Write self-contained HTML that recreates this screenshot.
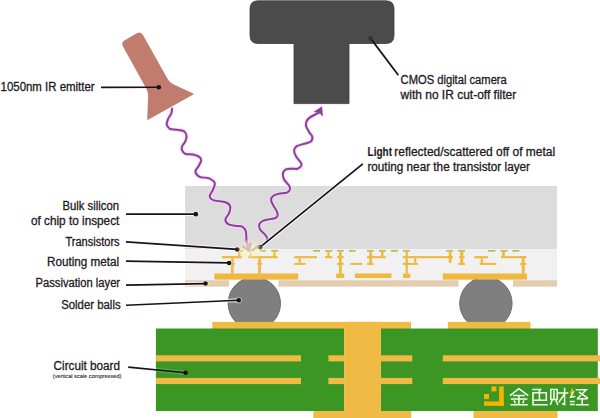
<!DOCTYPE html>
<html><head><meta charset="utf-8"><style>
html,body{margin:0;padding:0;background:#fff;overflow:hidden}
svg{display:block}
text{font-family:"Liberation Sans",sans-serif;fill:#1e1a1e;stroke:#1e1a1e;stroke-width:0.3}
</style></head><body>
<svg width="600" height="418" viewBox="0 0 600 418">
<defs>
<radialGradient id="glow" cx="50%" cy="50%" r="50%">
<stop offset="0" stop-color="#fffef0" stop-opacity="0.95"/>
<stop offset="0.3" stop-color="#fdf9c8" stop-opacity="0.75"/>
<stop offset="0.6" stop-color="#fbf6b8" stop-opacity="0.4"/>
<stop offset="1" stop-color="#fbf6b8" stop-opacity="0"/>
</radialGradient>
</defs>
<rect width="600" height="418" fill="#fff"/>
<!-- camera -->
<path d="M258,0.8 H386 Q394,0.8 394,8.8 V35.5 Q394,43.5 386,43.5 H349 V103.6 H294 V43.5 H258 Q250,43.5 250,35.5 V8.8 Q250,0.8 258,0.8 Z" fill="#4b4b4b" stroke="#3d3d3d" stroke-width="0.8"/>
<!-- emitter -->
<path d="M122.98,46.44 Q120.80,42.50 124.70,40.26 L136.90,33.24 Q140.80,31.00 143.00,34.93 L167.65,79.01 Q169.60,82.50 173.23,84.18 L194.30,93.90 L147.20,120.30 L148.14,96.30 Q148.30,92.30 146.37,88.80 Z" fill="#c27c6d"/>
<!-- chip -->
<rect x="185" y="186" width="372" height="63.3" fill="#dcdcdc"/>
<rect x="185" y="249.3" width="372" height="30.9" fill="#f1f1f1"/>
<rect x="185" y="280.2" width="44" height="6.5" fill="#e3ccb0"/>
<rect x="278.5" y="280.2" width="180" height="6.5" fill="#e3ccb0"/>
<rect x="513" y="280.2" width="44" height="6.5" fill="#e3ccb0"/>
<rect x="236.5" y="250.0" width="7.0" height="1.7" fill="#b4c24a"/>
<rect x="247.5" y="250.0" width="7.0" height="1.7" fill="#b4c24a"/>
<rect x="259.8" y="250.0" width="6.0" height="1.7" fill="#b4c24a"/>
<rect x="271.2" y="250.0" width="7.0" height="1.7" fill="#b4c24a"/>
<rect x="313.2" y="250.0" width="6.8" height="1.7" fill="#b4c24a"/>
<rect x="325.0" y="250.0" width="7.3" height="1.7" fill="#b4c24a"/>
<rect x="337.0" y="250.0" width="6.7" height="1.7" fill="#b4c24a"/>
<rect x="349.0" y="250.0" width="6.7" height="1.7" fill="#b4c24a"/>
<rect x="367.0" y="250.0" width="6.7" height="1.7" fill="#b4c24a"/>
<rect x="379.0" y="250.0" width="6.7" height="1.7" fill="#b4c24a"/>
<rect x="391.0" y="250.0" width="7.0" height="1.7" fill="#b4c24a"/>
<rect x="402.9" y="250.0" width="7.0" height="1.7" fill="#b4c24a"/>
<rect x="446.1" y="250.0" width="7.2" height="1.7" fill="#b4c24a"/>
<rect x="458.1" y="250.0" width="7.0" height="1.7" fill="#b4c24a"/>
<rect x="488.1" y="250.0" width="7.3" height="1.7" fill="#b4c24a"/>
<rect x="500.5" y="250.0" width="7.0" height="1.7" fill="#b4c24a"/>
<rect x="512.3" y="250.0" width="7.0" height="1.7" fill="#b4c24a"/>
<rect x="221.9" y="256.1" width="19.9" height="2.1" fill="#f0b83c"/>
<rect x="248.3" y="256.1" width="29.3" height="2.1" fill="#f0b83c"/>
<rect x="238.2" y="251.7" width="2.2" height="4.4" fill="#f0b83c"/>
<rect x="249.7" y="251.7" width="1.8" height="4.4" fill="#f0b83c"/>
<rect x="273.3" y="251.7" width="2.2" height="4.4" fill="#f0b83c"/>
<rect x="231.0" y="258.2" width="2.7" height="15.3" fill="#f0b83c"/>
<rect x="258.2" y="258.2" width="2.7" height="15.3" fill="#f0b83c"/>
<rect x="214.3" y="273.5" width="83.9" height="6.1" fill="#f0b83c"/>
<rect x="294.1" y="256.1" width="22.8" height="2.1" fill="#f0b83c"/>
<rect x="298.6" y="258.2" width="2.2" height="4.7" fill="#f0b83c"/>
<rect x="294.1" y="262.9" width="11.5" height="2.0" fill="#f0b83c"/>
<rect x="327.3" y="251.7" width="2.3" height="4.4" fill="#f0b83c"/>
<rect x="325.0" y="256.1" width="7.3" height="2.1" fill="#f0b83c"/>
<rect x="339.0" y="251.7" width="2.7" height="21.8" fill="#f0b83c"/>
<rect x="337.0" y="256.1" width="6.7" height="2.1" fill="#f0b83c"/>
<rect x="337.0" y="262.9" width="6.7" height="2.0" fill="#f0b83c"/>
<rect x="336.2" y="273.5" width="8.0" height="4.5" fill="#f0b83c"/>
<rect x="350.3" y="262.9" width="12.0" height="2.0" fill="#f0b83c"/>
<rect x="369.2" y="251.7" width="2.7" height="13.2" fill="#f0b83c"/>
<rect x="367.0" y="256.1" width="18.7" height="2.1" fill="#f0b83c"/>
<rect x="367.0" y="262.9" width="6.7" height="2.0" fill="#f0b83c"/>
<rect x="381.0" y="251.7" width="2.5" height="4.4" fill="#f0b83c"/>
<rect x="355.0" y="273.4" width="36.4" height="4.6" fill="#f0b83c"/>
<rect x="405.6" y="251.7" width="2.2" height="21.8" fill="#f0b83c"/>
<rect x="402.9" y="256.1" width="49.7" height="2.1" fill="#f0b83c"/>
<rect x="402.9" y="262.9" width="15.2" height="2.0" fill="#f0b83c"/>
<rect x="414.1" y="258.2" width="2.2" height="4.7" fill="#f0b83c"/>
<rect x="403.1" y="273.5" width="7.2" height="4.5" fill="#f0b83c"/>
<rect x="448.8" y="251.7" width="2.7" height="11.2" fill="#f0b83c"/>
<rect x="460.2" y="251.7" width="3.1" height="13.2" fill="#f0b83c"/>
<rect x="458.1" y="262.9" width="7.0" height="2.0" fill="#f0b83c"/>
<rect x="474.2" y="256.1" width="13.9" height="2.1" fill="#f0b83c"/>
<rect x="480.7" y="258.2" width="2.2" height="4.7" fill="#f0b83c"/>
<rect x="479.6" y="262.9" width="16.7" height="2.0" fill="#f0b83c"/>
<rect x="502.1" y="251.7" width="2.7" height="4.4" fill="#f0b83c"/>
<rect x="501.0" y="256.1" width="25.3" height="2.1" fill="#f0b83c"/>
<rect x="521.8" y="258.2" width="2.9" height="15.3" fill="#f0b83c"/>
<rect x="519.9" y="262.9" width="6.4" height="2.0" fill="#f0b83c"/>
<rect x="442.8" y="273.5" width="84.2" height="6.1" fill="#f0b83c"/>
<rect x="229.9" y="263.1" width="1.1" height="1.6" fill="#d9a83a"/>
<rect x="233.7" y="263.1" width="1.1" height="1.6" fill="#d9a83a"/>
<rect x="257.1" y="263.1" width="1.1" height="1.6" fill="#d9a83a"/>
<rect x="260.9" y="263.1" width="1.1" height="1.6" fill="#d9a83a"/>
<rect x="459.1" y="256.4" width="1.1" height="1.6" fill="#d9a83a"/>
<rect x="463.3" y="256.4" width="1.1" height="1.6" fill="#d9a83a"/>
<rect x="447.7" y="256.4" width="1.1" height="1.6" fill="#d9a83a"/>
<rect x="451.5" y="256.4" width="1.1" height="1.6" fill="#d9a83a"/>
<rect x="404.5" y="263.1" width="1.1" height="1.6" fill="#d9a83a"/>
<rect x="407.8" y="263.1" width="1.1" height="1.6" fill="#d9a83a"/>
<rect x="520.7" y="256.4" width="1.1" height="1.6" fill="#d9a83a"/>
<rect x="524.7" y="256.4" width="1.1" height="1.6" fill="#d9a83a"/>
<!-- solder balls -->
<clipPath id="bc"><rect x="0" y="279.6" width="600" height="42.4"/></clipPath>
<g clip-path="url(#bc)">
<circle cx="254.3" cy="303.4" r="26.2" fill="#7f7f7f" stroke="#6c6c6c" stroke-width="1"/>
<circle cx="485.9" cy="303.3" r="26.2" fill="#7f7f7f" stroke="#6c6c6c" stroke-width="1"/>
</g>
<rect x="212.3" y="321.9" width="198.7" height="7.1" fill="#f0bb45"/>
<rect x="447.8" y="321.9" width="82.7" height="7.1" fill="#f0bb45"/>
<rect x="155.9" y="328.5" width="188.2" height="82.5" fill="#3b9623"/>
<rect x="380.9" y="328.5" width="216.9" height="82.5" fill="#3b9623"/>
<rect x="155.9" y="355.3" width="145.1" height="6.1" fill="#f0bb45"/>
<rect x="328.4" y="355.3" width="15.7" height="6.1" fill="#f0bb45"/>
<rect x="155.9" y="377.9" width="145.1" height="6.2" fill="#f0bb45"/>
<rect x="328.4" y="377.9" width="15.7" height="6.2" fill="#f0bb45"/>
<rect x="380.9" y="355.3" width="31.4" height="6.1" fill="#f0bb45"/>
<rect x="442.8" y="355.3" width="157.2" height="6.1" fill="#f0bb45"/>
<rect x="380.9" y="377.9" width="31.4" height="6.2" fill="#f0bb45"/>
<rect x="442.8" y="377.9" width="157.2" height="6.2" fill="#f0bb45"/>
<rect x="344.1" y="321.9" width="36.8" height="96.1" fill="#f0bb45"/>
<rect x="313.3" y="411.0" width="97.9" height="7.0" fill="#f0bb45"/>
<rect x="473.5" y="411.0" width="84.0" height="7.0" fill="#f0bb45"/>
<!-- waves -->
<path d="M172.10,108.70 C171.83,110.23 171.95,111.62 171.30,113.30 C170.65,114.98 168.97,116.98 168.20,118.80 C167.43,120.62 166.43,122.52 166.70,124.20 C166.97,125.88 168.12,127.98 169.80,128.90 C171.48,129.82 174.47,129.32 176.80,129.70 C179.13,130.08 182.17,130.17 183.80,131.20 C185.43,132.23 186.35,134.22 186.60,135.90 C186.85,137.58 186.03,139.62 185.30,141.30 C184.57,142.98 182.77,144.57 182.20,146.00 C181.63,147.43 181.38,148.60 181.90,149.90 C182.42,151.20 183.43,153.03 185.30,153.80 C187.17,154.57 190.77,153.98 193.10,154.50 C195.43,155.02 197.95,155.87 199.30,156.90 C200.65,157.93 201.33,159.15 201.20,160.70 C201.07,162.25 199.47,164.37 198.50,166.20 C197.53,168.03 195.22,169.93 195.40,171.70 C195.58,173.47 197.32,175.68 199.60,176.80 C201.88,177.92 206.57,177.33 209.10,178.40 C211.63,179.47 214.17,181.30 214.80,183.20 C215.43,185.10 213.75,187.58 212.90,189.80 C212.05,192.02 209.53,194.73 209.70,196.50 C209.87,198.27 211.28,199.43 213.90,200.40 C216.52,201.37 222.70,201.35 225.40,202.30 C228.10,203.25 229.47,204.35 230.10,206.10 C230.73,207.85 229.98,210.57 229.20,212.80 C228.42,215.03 225.57,217.60 225.40,219.50 C225.23,221.40 226.60,223.15 228.20,224.20 C229.80,225.25 232.65,225.40 235.00,225.80 C237.35,226.20 240.53,225.82 242.30,226.60 C244.07,227.38 244.93,228.93 245.60,230.50 C246.27,232.07 246.17,234.17 246.30,236.00 C246.43,237.83 246.37,239.67 246.40,241.50" fill="none" stroke="#f7d8f7" stroke-opacity="0.9" stroke-width="4" stroke-linecap="round"/>
<path d="M172.10,108.70 C171.83,110.23 171.95,111.62 171.30,113.30 C170.65,114.98 168.97,116.98 168.20,118.80 C167.43,120.62 166.43,122.52 166.70,124.20 C166.97,125.88 168.12,127.98 169.80,128.90 C171.48,129.82 174.47,129.32 176.80,129.70 C179.13,130.08 182.17,130.17 183.80,131.20 C185.43,132.23 186.35,134.22 186.60,135.90 C186.85,137.58 186.03,139.62 185.30,141.30 C184.57,142.98 182.77,144.57 182.20,146.00 C181.63,147.43 181.38,148.60 181.90,149.90 C182.42,151.20 183.43,153.03 185.30,153.80 C187.17,154.57 190.77,153.98 193.10,154.50 C195.43,155.02 197.95,155.87 199.30,156.90 C200.65,157.93 201.33,159.15 201.20,160.70 C201.07,162.25 199.47,164.37 198.50,166.20 C197.53,168.03 195.22,169.93 195.40,171.70 C195.58,173.47 197.32,175.68 199.60,176.80 C201.88,177.92 206.57,177.33 209.10,178.40 C211.63,179.47 214.17,181.30 214.80,183.20 C215.43,185.10 213.75,187.58 212.90,189.80 C212.05,192.02 209.53,194.73 209.70,196.50 C209.87,198.27 211.28,199.43 213.90,200.40 C216.52,201.37 222.70,201.35 225.40,202.30 C228.10,203.25 229.47,204.35 230.10,206.10 C230.73,207.85 229.98,210.57 229.20,212.80 C228.42,215.03 225.57,217.60 225.40,219.50 C225.23,221.40 226.60,223.15 228.20,224.20 C229.80,225.25 232.65,225.40 235.00,225.80 C237.35,226.20 240.53,225.82 242.30,226.60 C244.07,227.38 244.93,228.93 245.60,230.50 C246.27,232.07 246.17,234.17 246.30,236.00 C246.43,237.83 246.37,239.67 246.40,241.50" fill="none" stroke="#8b409a" stroke-width="2" stroke-linecap="round"/>
<path d="M266.60,241.50 C266.87,240.53 267.65,239.73 267.40,238.60 C267.15,237.47 266.27,236.15 265.10,234.70 C263.93,233.25 261.38,231.60 260.40,229.90 C259.42,228.20 258.80,226.00 259.20,224.50 C259.60,223.00 261.02,221.80 262.80,220.90 C264.58,220.00 267.72,219.60 269.90,219.10 C272.08,218.60 274.60,218.60 275.90,217.90 C277.20,217.20 277.60,216.08 277.70,214.90 C277.80,213.72 277.30,212.48 276.50,210.80 C275.70,209.12 273.80,206.60 272.90,204.80 C272.00,203.00 271.12,201.43 271.10,200.00 C271.08,198.57 271.53,197.23 272.80,196.20 C274.07,195.17 276.32,194.40 278.70,193.80 C281.08,193.20 285.20,193.40 287.10,192.60 C289.00,191.80 289.80,190.18 290.10,189.00 C290.40,187.82 289.90,187.08 288.90,185.50 C287.90,183.92 285.10,181.50 284.10,179.50 C283.10,177.50 282.60,175.20 282.90,173.50 C283.20,171.80 284.38,170.10 285.90,169.30 C287.42,168.50 290.07,168.80 292.00,168.70 C293.93,168.60 295.93,169.22 297.50,168.70 C299.07,168.18 300.87,166.63 301.40,165.60 C301.93,164.57 301.60,164.05 300.70,162.50 C299.80,160.95 297.10,158.37 296.00,156.30 C294.90,154.23 293.97,151.78 294.10,150.10 C294.23,148.42 295.18,147.23 296.80,146.20 C298.42,145.17 301.47,144.68 303.80,143.90 C306.13,143.12 309.38,142.67 310.80,141.50 C312.22,140.33 312.57,138.45 312.30,136.90 C312.03,135.35 310.23,134.02 309.20,132.20 C308.17,130.38 306.53,127.82 306.10,126.00 C305.67,124.18 305.95,122.73 306.60,121.30 C307.25,119.87 308.27,118.68 310.00,117.40 C311.73,116.12 315.42,114.45 317.00,113.60 C318.58,112.75 318.67,112.73 319.50,112.30" fill="none" stroke="#f7d8f7" stroke-opacity="0.9" stroke-width="4" stroke-linecap="round"/>
<path d="M266.60,241.50 C266.87,240.53 267.65,239.73 267.40,238.60 C267.15,237.47 266.27,236.15 265.10,234.70 C263.93,233.25 261.38,231.60 260.40,229.90 C259.42,228.20 258.80,226.00 259.20,224.50 C259.60,223.00 261.02,221.80 262.80,220.90 C264.58,220.00 267.72,219.60 269.90,219.10 C272.08,218.60 274.60,218.60 275.90,217.90 C277.20,217.20 277.60,216.08 277.70,214.90 C277.80,213.72 277.30,212.48 276.50,210.80 C275.70,209.12 273.80,206.60 272.90,204.80 C272.00,203.00 271.12,201.43 271.10,200.00 C271.08,198.57 271.53,197.23 272.80,196.20 C274.07,195.17 276.32,194.40 278.70,193.80 C281.08,193.20 285.20,193.40 287.10,192.60 C289.00,191.80 289.80,190.18 290.10,189.00 C290.40,187.82 289.90,187.08 288.90,185.50 C287.90,183.92 285.10,181.50 284.10,179.50 C283.10,177.50 282.60,175.20 282.90,173.50 C283.20,171.80 284.38,170.10 285.90,169.30 C287.42,168.50 290.07,168.80 292.00,168.70 C293.93,168.60 295.93,169.22 297.50,168.70 C299.07,168.18 300.87,166.63 301.40,165.60 C301.93,164.57 301.60,164.05 300.70,162.50 C299.80,160.95 297.10,158.37 296.00,156.30 C294.90,154.23 293.97,151.78 294.10,150.10 C294.23,148.42 295.18,147.23 296.80,146.20 C298.42,145.17 301.47,144.68 303.80,143.90 C306.13,143.12 309.38,142.67 310.80,141.50 C312.22,140.33 312.57,138.45 312.30,136.90 C312.03,135.35 310.23,134.02 309.20,132.20 C308.17,130.38 306.53,127.82 306.10,126.00 C305.67,124.18 305.95,122.73 306.60,121.30 C307.25,119.87 308.27,118.68 310.00,117.40 C311.73,116.12 315.42,114.45 317.00,113.60 C318.58,112.75 318.67,112.73 319.50,112.30" fill="none" stroke="#8b409a" stroke-width="2" stroke-linecap="round"/>
<path d="M321.8,106.8 L314.2,111.8 L319.2,112.6 L322.6,116 Z" fill="#8b409a" stroke="#8b409a" stroke-width="0.6" stroke-linejoin="round"/>
<line x1="101" y1="87.45" x2="158.8" y2="87.25" stroke="#fff" stroke-opacity="0" stroke-width="3.8"/><line x1="101" y1="87.45" x2="158.8" y2="87.25" stroke="#1a111b" stroke-width="1.75"/><circle cx="158.8" cy="87.25" r="2.3" fill="#1a111b"/>
<line x1="398.4" y1="75.2" x2="370.6" y2="38.4" stroke="#1a111b" stroke-width="1.75"/><circle cx="370.6" cy="38.4" r="2.3" fill="#3a2c3c"/>
<line x1="362.8" y1="163.85" x2="260.1" y2="247.15" stroke="#fff" stroke-opacity="0.7" stroke-width="3.8"/><circle cx="260.1" cy="247.15" r="3.1" fill="#fff" fill-opacity="0.5"/><line x1="362.8" y1="163.85" x2="260.1" y2="247.15" stroke="#1a111b" stroke-width="1.75"/><circle cx="260.1" cy="247.15" r="2.3" fill="#1a111b"/>
<line x1="126" y1="214.05" x2="195.8" y2="214.15" stroke="#fff" stroke-opacity="0.7" stroke-width="3.8"/><circle cx="195.8" cy="214.15" r="3.1" fill="#fff" fill-opacity="0.5"/><line x1="126" y1="214.05" x2="195.8" y2="214.15" stroke="#1a111b" stroke-width="1.75"/><circle cx="195.8" cy="214.15" r="2.3" fill="#1a111b"/>
<line x1="126" y1="241.85" x2="237.3" y2="249.45" stroke="#fff" stroke-opacity="0.7" stroke-width="3.8"/><circle cx="237.3" cy="249.45" r="3.1" fill="#fff" fill-opacity="0.5"/><line x1="126" y1="241.85" x2="237.3" y2="249.45" stroke="#1a111b" stroke-width="1.75"/><circle cx="237.3" cy="249.45" r="2.3" fill="#1a111b"/>
<line x1="126" y1="261.05" x2="229.1" y2="262.95" stroke="#fff" stroke-opacity="0.7" stroke-width="3.8"/><circle cx="229.1" cy="262.95" r="3.1" fill="#fff" fill-opacity="0.5"/><line x1="126" y1="261.05" x2="229.1" y2="262.95" stroke="#1a111b" stroke-width="1.75"/><circle cx="229.1" cy="262.95" r="2.3" fill="#1a111b"/>
<line x1="126" y1="285.15" x2="205.5" y2="283.55" stroke="#fff" stroke-opacity="0.7" stroke-width="3.8"/><circle cx="205.5" cy="283.55" r="3.1" fill="#fff" fill-opacity="0.5"/><line x1="126" y1="285.15" x2="205.5" y2="283.55" stroke="#1a111b" stroke-width="1.75"/><circle cx="205.5" cy="283.55" r="2.3" fill="#1a111b"/>
<line x1="126" y1="305.25" x2="238.7" y2="300.25" stroke="#fff" stroke-opacity="0.7" stroke-width="3.8"/><circle cx="238.7" cy="300.25" r="3.1" fill="#fff" fill-opacity="0.5"/><line x1="126" y1="305.25" x2="238.7" y2="300.25" stroke="#1a111b" stroke-width="1.75"/><circle cx="238.7" cy="300.25" r="2.3" fill="#1a111b"/>
<line x1="128.2" y1="367.15" x2="185.6" y2="372.75" stroke="#fff" stroke-opacity="0.2" stroke-width="3.8"/><line x1="128.2" y1="367.15" x2="185.6" y2="372.75" stroke="#1a111b" stroke-width="1.75"/><circle cx="185.6" cy="372.75" r="2.3" fill="#1a111b"/>
<ellipse cx="250.5" cy="249.5" rx="15" ry="10" fill="url(#glow)"/>
<path d="M246.4,241 L248.8,249.5 M243,246.6 L249.2,250.7 L250.6,243.2" fill="none" stroke="#c9a8a8" stroke-opacity="0.7" stroke-width="2.4" stroke-linecap="round" stroke-linejoin="round"/>
<path d="M252.5,250 L258.5,246" fill="none" stroke="#c9a8a8" stroke-opacity="0.7" stroke-width="2.4" stroke-linecap="round"/>

<text x="0.6" y="91.3" font-size="12" text-anchor="start" textLength="94.0" lengthAdjust="spacingAndGlyphs" font-weight="normal">1050nm IR emitter</text>
<text x="400.6" y="84.4" font-size="12" text-anchor="start" textLength="106.2" lengthAdjust="spacingAndGlyphs" font-weight="normal">CMOS digital camera</text>
<text x="400.6" y="99.2" font-size="12" text-anchor="start" textLength="115.6" lengthAdjust="spacingAndGlyphs" font-weight="normal">with no IR cut-off filter</text>
<text x="367.6" y="155.9" font-size="12" textLength="24.4" lengthAdjust="spacingAndGlyphs" font-weight="bold" style="stroke-width:0.15">Light</text>
<text x="394.3" y="155.9" font-size="12" text-anchor="start" textLength="160.8" lengthAdjust="spacingAndGlyphs" font-weight="normal">reflected/scattered off of metal</text>
<text x="367.4" y="170.5" font-size="12" text-anchor="start" textLength="162.6" lengthAdjust="spacingAndGlyphs" font-weight="normal">routing near the transistor layer</text>
<text x="119" y="209.7" font-size="12" text-anchor="end" textLength="56.5" lengthAdjust="spacingAndGlyphs" font-weight="normal">Bulk silicon</text>
<text x="119.3" y="224.6" font-size="12" text-anchor="end" textLength="88.3" lengthAdjust="spacingAndGlyphs" font-weight="normal">of chip to inspect</text>
<text x="119.6" y="245.6" font-size="12" text-anchor="end" textLength="54.2" lengthAdjust="spacingAndGlyphs" font-weight="normal">Transistors</text>
<text x="119.2" y="265.7" font-size="12" text-anchor="end" textLength="72.2" lengthAdjust="spacingAndGlyphs" font-weight="normal">Routing metal</text>
<text x="120.1" y="286.9" font-size="12" text-anchor="end" textLength="84.5" lengthAdjust="spacingAndGlyphs" font-weight="normal">Passivation layer</text>
<text x="120.6" y="308.5" font-size="12" text-anchor="end" textLength="59.4" lengthAdjust="spacingAndGlyphs" font-weight="normal">Solder balls</text>
<text x="120" y="370.1" font-size="12" text-anchor="end" textLength="66.4" lengthAdjust="spacingAndGlyphs" font-weight="normal">Circuit board</text>
<text x="121.4" y="377.6" font-size="5.2" text-anchor="end" textLength="68.6" lengthAdjust="spacingAndGlyphs" style="stroke-width:0.12;fill:#333;stroke:#333">(vertical scale compressed)</text>
<!-- watermark -->
<g fill="#f5b400">
<rect x="499.1" y="386.4" width="4.7" height="19.4"/>
<rect x="484" y="401.4" width="19.8" height="4.4"/>
<rect x="491.4" y="386.4" width="5" height="5"/>
<rect x="484" y="394" width="5" height="5.1"/>
</g>
<g fill="none" stroke="#f4fff0" stroke-width="1.5" stroke-linecap="square">
<path d="M510.6,395.2 L518.9,388.6 L527.6,395.2 M513.8,395.4 H524.1 M511.6,399.1 H526.6 M518.9,395.4 V404.8 M511.2,404.8 H527 M514.4,401 L515.2,402.6 M523.8,401 L523,402.6"/>
<path d="M533,389.4 H540.5 L538.6,392.6 M533,392.8 H546.3 V400.3 H533 V392.8 M539.4,392.8 V400.3 M533,400.3 V404.8 H547"/>
<path d="M550.8,389.5 H557.2 V399.6 H550.8 Z M554,391.5 V398.5 M552.2,399.8 L550.6,404.4 M555.8,399.8 L557.6,404.4 M558.8,393 H567.6 M564.6,388.6 V404.6 L562.8,403.8 M564.4,394 L559.2,401.8"/>
<path d="M576.4,389.8 H586.2 L578,398 M579.5,392.5 L587.5,397.8 M577.5,398.8 H587 M582.2,398.8 V404.8 M576.6,404.8 H588 M573.4,391.6 L570.6,397.2 L574.6,396.6 M570.6,401.4 H574 M570.6,404.6 H574"/>
</g>
<path d="M572.6,388.6 L570.6,393.6" stroke="#f5b400" stroke-width="1.6"/>
</svg>
</body></html>
